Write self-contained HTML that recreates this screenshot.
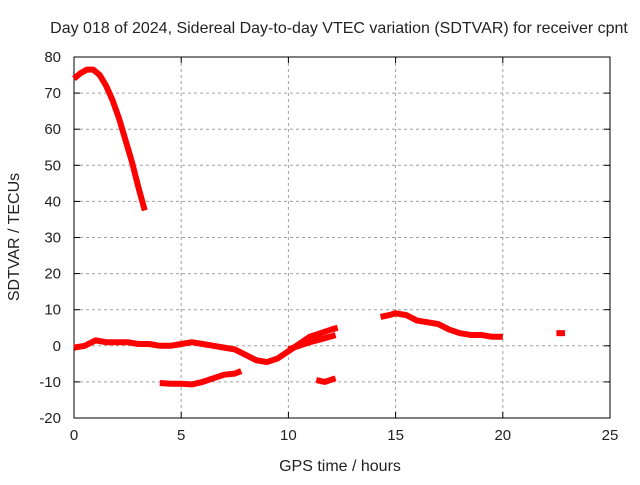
<!DOCTYPE html>
<html><head><meta charset="utf-8"><style>
body{margin:0;background:#fff}
text{font-family:"Liberation Sans",sans-serif;font-size:15px;fill:#222}
.t{font-size:16px}
</style></head><body>
<svg id="chart" width="640" height="480" xmlns="http://www.w3.org/2000/svg">
<rect width="640" height="480" fill="#fff"/>
<text class="t" x="339" y="33" text-anchor="middle">Day 018 of 2024, Sidereal Day-to-day VTEC variation (SDTVAR) for receiver cpnt</text>
<g id="grid"></g>
<g id="axes"></g>
<g id="series"></g>
<text class="t" x="340" y="471" text-anchor="middle">GPS time / hours</text>
<text class="t" transform="translate(19,237) rotate(-90)" text-anchor="middle">SDTVAR / TECUs</text>
</svg>
<script>
const xTicks=[0,5,10,15,20,25];
const yTicks=[-20,-10,0,10,20,30,40,50,60,70,80];
const seg1X=[0,0.3,0.6,0.9,1.2,1.5,1.8,2.1,2.4,2.7,3.0,3.3];
const seg1Y=[74,75.5,76.5,76.5,75,72,68,63,57,51,44,37.5];
const seg2X=[0,0.5,1,1.5,2,2.5,3,3.5,4,4.5,5,5.5,6,6.5,7,7.5,8,8.5,9,9.5,10,10.5,11,11.5,12,12.3];
const seg2Y=[-0.5,0,1.5,1,1,1,0.5,0.5,0,0,0.5,1,0.5,0,-0.5,-1,-2.5,-4,-4.5,-3.5,-1.5,0.5,2.5,3.5,4.5,5];
const seg3X=[10,10.5,11,11.5,12,12.2];
const seg3Y=[-1,0,1,1.8,2.6,3];
const seg4X=[4,4.5,5,5.5,6,6.5,7,7.5,7.8];
const seg4Y=[-10.3,-10.5,-10.5,-10.7,-10,-9,-8,-7.7,-7];
const seg5X=[11.3,11.7,12.2];
const seg5Y=[-9.5,-10,-9];
const seg6X=[14.3,14.7,15,15.5,16,16.5,17,17.5,18,18.5,19,19.5,20];
const seg6Y=[8,8.5,9,8.5,7,6.5,6,4.5,3.5,3,3,2.5,2.5];
const seg7X=[22.5,22.9];
const seg7Y=[3.5,3.5];
const L=74,R=610,T=57,B=418;
const xs=v=>L+(v-0)/25*(R-L);
const ys=v=>B-(v+20)/100*(B-T);
const NS="http://www.w3.org/2000/svg";
function mk(tag,attrs,parent){const e=document.createElementNS(NS,tag);for(const k in attrs)e.setAttribute(k,attrs[k]);parent.appendChild(e);return e;}
const grid=document.getElementById('grid'),axes=document.getElementById('axes'),series=document.getElementById('series');
xTicks.forEach(t=>{const x=xs(t);
 if(t>0&&t<25){const g=mk('line',{x1:x,x2:x,y1:T,y2:B,stroke:'#a0a0a0','stroke-dasharray':'3,3'},grid);
 }
 const tx=mk('text',{x:x,y:B+22,'text-anchor':'middle'},axes);tx.textContent=t;
 
 mk('line',{x1:x,x2:x,y1:B,y2:B-6,stroke:'#000'},axes);mk('line',{x1:x,x2:x,y1:T,y2:T+6,stroke:'#000'},axes);});
yTicks.forEach(t=>{const y=ys(t);
 if(t>-20&&t<80){const g=mk('line',{x1:L,x2:R,y1:y,y2:y,stroke:'#a0a0a0','stroke-dasharray':'3,3'},grid);
 }
 const tx=mk('text',{x:L-13,y:y+5,'text-anchor':'end'},axes);tx.textContent=t;
 
 mk('line',{x1:L,x2:L+6,y1:y,y2:y,stroke:'#000'},axes);mk('line',{x1:R,x2:R-6,y1:y,y2:y,stroke:'#000'},axes);});
const fr=mk('rect',{x:L,y:T,width:R-L,height:B-T,fill:'none',stroke:'#000'},axes);

[[seg1X,seg1Y],[seg2X,seg2Y],[seg3X,seg3Y],[seg4X,seg4Y],[seg5X,seg5Y],[seg6X,seg6Y],[seg7X,seg7Y]].forEach(([X,Y])=>{
 const p=mk('polyline',{points:X.map((x,i)=>xs(x)+','+ys(Y[i])).join(' '),fill:'none',stroke:'#ff0000','stroke-width':6,'stroke-linejoin':'round','stroke-linecap':'butt'},series);
 
 
});
</script>
</body></html>
